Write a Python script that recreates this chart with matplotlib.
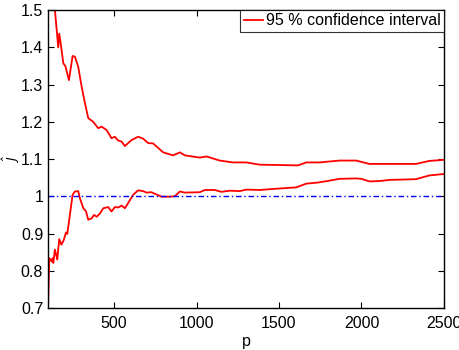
import matplotlib
matplotlib.use("Agg")
import matplotlib.pyplot as plt

upper_x = [100, 125, 142, 162, 168, 177, 193, 205, 227, 249, 263, 283, 304, 324, 344, 374, 404,
           425, 455, 485, 505, 525, 546, 566, 606, 646, 676, 707, 737, 798, 858, 899, 929, 1020,
           1060, 1141, 1220, 1302, 1383, 1504, 1615, 1665, 1746, 1867, 1968, 2048, 2149, 2330,
           2411, 2500]
upper_y = [1.75, 1.58, 1.50, 1.40, 1.437, 1.41, 1.357, 1.35, 1.312, 1.377, 1.375, 1.348, 1.294,
           1.25, 1.21, 1.20, 1.183, 1.187, 1.178, 1.156, 1.16, 1.15, 1.147, 1.135, 1.151, 1.16,
           1.155, 1.143, 1.142, 1.118, 1.110, 1.118, 1.11, 1.104, 1.107, 1.096, 1.091, 1.091,
           1.085, 1.084, 1.083, 1.091, 1.091, 1.096, 1.096, 1.087, 1.087, 1.087, 1.095, 1.098]

lower_x = [100, 108, 122, 128, 132, 142, 156, 168, 181, 195, 209, 217, 249, 263, 283, 293, 314,
           330, 344, 365, 379, 395, 415, 435, 465, 485, 505, 525, 546, 566, 586, 616, 646, 676,
           697, 727, 757, 788, 838, 868, 899, 929, 1020, 1050, 1110, 1151, 1201, 1262, 1302,
           1383, 1504, 1605, 1665, 1736, 1806, 1867, 1968, 1998, 2048, 2109, 2169, 2330, 2411,
           2500]
lower_y = [0.70, 0.834, 0.825, 0.834, 0.821, 0.857, 0.830, 0.885, 0.870, 0.882, 0.903, 0.899,
           1.004, 1.013, 1.014, 0.995, 0.968, 0.96, 0.937, 0.941, 0.95, 0.945, 0.954, 0.968,
           0.971, 0.959, 0.971, 0.970, 0.975, 0.968, 0.982, 1.004, 1.016, 1.014, 1.01, 1.011,
           1.005, 0.999, 0.999, 1.0, 1.013, 1.010, 1.011, 1.017, 1.017, 1.012, 1.015, 1.014,
           1.018, 1.017, 1.021, 1.024, 1.034, 1.037, 1.042, 1.047, 1.048, 1.047, 1.040, 1.041,
           1.044, 1.046, 1.056, 1.060]

ref_level = 1.0
x_ticks = [500, 1000, 1500, 2000, 2500]
y_ticks = [0.7, 0.8, 0.9, 1.0, 1.1, 1.2, 1.3, 1.4, 1.5]
y_tick_labels = ["0.7", "0.8", "0.9", "1", "1.1", "1.2", "1.3", "1.4", "1.5"]

plt.rcParams['font.family'] = ['Liberation Sans', 'DejaVu Sans']
fig = plt.figure(figsize=(4.59, 3.5), dpi=100)
ax = fig.add_axes([0.1046, 0.12, 0.8627, 0.851])

ax.plot(upper_x, upper_y, color='red', lw=1.3, label='95 % confidence interval')
ax.plot(lower_x, lower_y, color='red', lw=1.3)
ax.axhline(ref_level, color='blue', lw=1.0, ls=(0, (4, 2, 1, 2)))

ax.set_xlim(100, 2500)
ax.set_ylim(0.7, 1.5)
ax.set_xticks(x_ticks)
ax.set_yticks(y_ticks)
ax.set_yticklabels(y_tick_labels)
ax.tick_params(direction='in', top=True, right=True, labelsize=11.5, length=4, width=0.8)
ax.tick_params(axis='x', pad=6)
for s in ax.spines.values():
    s.set_linewidth(1.0)

ax.set_xlabel('p', fontsize=11.5, labelpad=2)
ax.set_ylabel(r'$\hat{J}$', fontsize=9)
ax.yaxis.set_label_coords(-0.066, 0.5)

leg = ax.legend(loc='upper right', fontsize=11.5, frameon=True, fancybox=False,
                handlelength=1.2, handletextpad=0.2, borderpad=0.2, borderaxespad=0.0)
leg.get_frame().set_edgecolor('black')
leg.get_frame().set_linewidth(0.8)

fig.savefig('out.png', dpi=100)
